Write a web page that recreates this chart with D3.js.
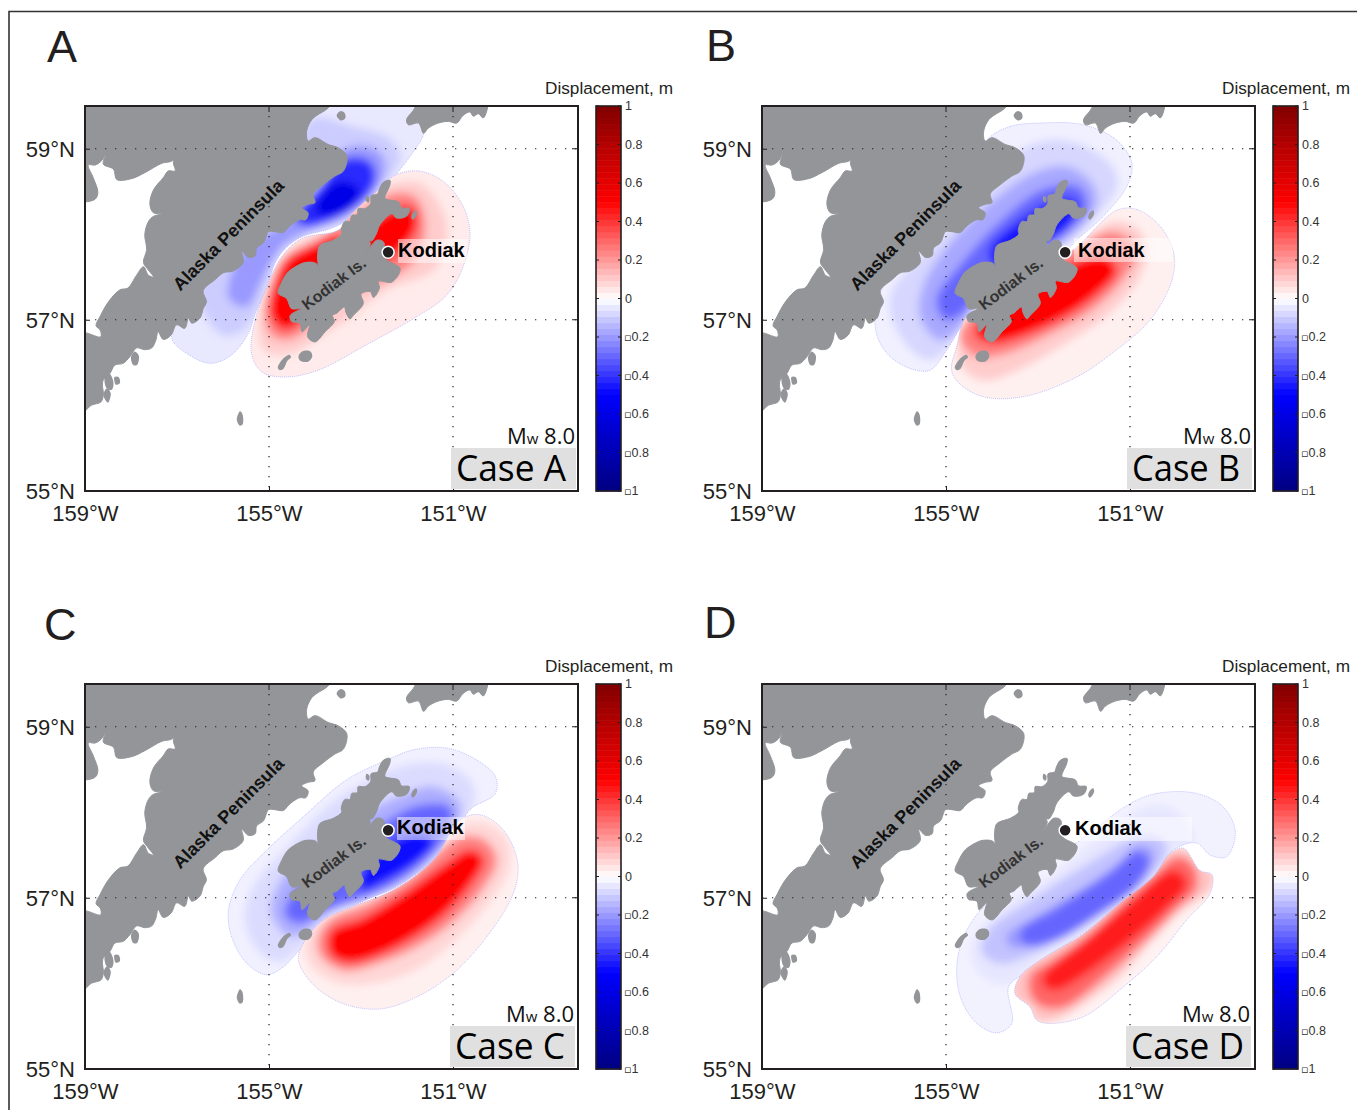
<!DOCTYPE html>
<html><head><meta charset="utf-8">
<script src="https://cdn.jsdelivr.net/npm/d3@7"></script>
<style>html,body{margin:0;padding:0;background:#fff}svg{display:block}</style></head>
<body><div id="chart"></div>
<script>
// ---- land outlines, [lon, lat] ----
const mainland=[[-159.1,59.6],[-153.60,59.6],[-153.71,59.48],[-153.96,59.39],[-154.07,59.34],[-154.18,59.21],[-154.15,59.09],[-154.00,59.13],[-153.71,59.05],[-153.49,59.01],[-153.31,58.92],[-153.38,58.74],[-153.57,58.68],[-153.82,58.58],[-154.04,58.47],[-154.00,58.37],[-154.15,58.35],[-154.29,58.31],[-154.15,58.25],[-154.20,58.17],[-154.33,58.17],[-154.47,58.13],[-154.58,58.08],[-154.69,58.02],[-154.87,58.03],[-155.01,58.03],[-155.12,57.90],[-155.27,57.84],[-155.30,57.75],[-155.45,57.73],[-155.59,57.80],[-155.56,57.67],[-155.78,57.57],[-155.99,57.55],[-156.17,57.47],[-156.43,57.34],[-156.36,57.21],[-156.43,57.13],[-156.50,57.02],[-156.68,56.96],[-156.75,57.02],[-156.83,56.90],[-157.01,56.94],[-157.13,56.82],[-157.30,56.77],[-157.41,56.86],[-157.46,56.76],[-157.55,56.67],[-157.70,56.65],[-157.88,56.67],[-158.02,56.57],[-158.17,56.49],[-158.35,56.47],[-158.46,56.37],[-158.60,56.30],[-158.62,56.22],[-158.60,56.14],[-158.65,56.04],[-158.86,56.00],[-159.1,55.90],[-159.1,56.84],[-158.66,56.80],[-158.67,56.88],[-158.76,56.93],[-158.67,57.04],[-158.49,57.21],[-158.24,57.35],[-158.07,57.37],[-157.88,57.52],[-157.73,57.62],[-157.62,57.52],[-157.51,57.50],[-157.62,57.58],[-157.73,57.67],[-157.66,57.82],[-157.70,58.00],[-157.62,58.15],[-157.51,58.21],[-157.33,58.24],[-157.51,58.25],[-157.59,58.35],[-157.51,58.52],[-157.30,58.66],[-157.19,58.74],[-157.04,58.74],[-157.08,58.84],[-157.01,58.95],[-157.10,58.86],[-157.33,58.83],[-157.70,58.72],[-157.99,58.65],[-158.31,58.64],[-158.38,58.76],[-158.60,58.82],[-158.53,58.95],[-158.42,59.07],[-158.64,58.86],[-158.78,58.81],[-158.93,58.81],[-158.82,58.66],[-158.72,58.49],[-158.78,58.41],[-159.1,58.40]];
const kenai=[[-151.68,59.6],[-151.86,59.45],[-152.01,59.34],[-151.97,59.28],[-151.75,59.30],[-151.64,59.18],[-151.54,59.24],[-151.32,59.30],[-151.10,59.32],[-150.92,59.30],[-150.78,59.39],[-150.63,59.43],[-150.56,59.38],[-150.45,59.41],[-150.34,59.36],[-150.27,59.6]];
const kodiak=[[-152.37,58.63],[-152.51,58.61],[-152.60,58.53],[-152.64,58.47],[-152.78,58.45],[-152.79,58.36],[-152.91,58.30],[-153.06,58.30],[-153.08,58.23],[-153.20,58.22],[-153.24,58.15],[-153.35,58.15],[-153.43,58.05],[-153.42,58.00],[-153.60,57.93],[-153.89,57.87],[-153.94,57.78],[-153.93,57.64],[-153.89,57.57],[-153.98,57.66],[-154.22,57.67],[-154.36,57.64],[-154.58,57.56],[-154.72,57.44],[-154.80,57.31],[-154.62,57.25],[-154.51,57.13],[-154.31,57.13],[-154.54,57.05],[-154.51,56.98],[-154.33,56.96],[-154.28,56.86],[-154.12,56.94],[-154.16,56.80],[-154.00,56.74],[-153.78,56.86],[-153.58,56.98],[-153.62,57.05],[-153.52,57.08],[-153.36,57.15],[-153.33,57.09],[-153.24,57.01],[-153.17,57.05],[-152.95,57.19],[-153.00,57.30],[-152.80,57.33],[-152.73,57.26],[-152.60,57.37],[-152.62,57.45],[-152.33,57.44],[-152.15,57.60],[-152.48,57.72],[-152.51,57.91],[-152.66,57.93],[-152.88,57.79],[-152.80,57.89],[-153.02,58.05],[-152.78,57.92],[-152.67,58.00],[-152.59,58.11],[-152.33,58.24],[-152.23,58.19],[-152.01,58.21],[-151.95,58.30],[-152.12,58.31],[-152.19,58.38],[-152.37,58.40],[-152.48,58.42],[-152.37,58.58]];
const islets=[
 [[-151.80,58.28],[-151.78,58.24],[-151.87,58.17],[-151.91,58.20],[-151.86,58.26]],
 [[-152.88,58.45],[-152.82,58.43],[-152.83,58.37],[-152.89,58.39]],
 [[-154.36,56.57],[-154.28,56.63],[-154.10,56.63],[-154.06,56.57],[-154.15,56.51],[-154.32,56.52]],
 [[-154.81,56.44],[-154.76,56.41],[-154.68,56.43],[-154.60,56.52],[-154.52,56.56],[-154.56,56.59],[-154.66,56.56],[-154.76,56.50]],
 [[-153.53,59.39],[-153.45,59.44],[-153.36,59.42],[-153.34,59.36],[-153.43,59.33]],
 [[-158.00,56.56],[-157.92,56.63],[-157.83,56.58],[-157.87,56.47],[-157.95,56.47]],
 [[-158.57,56.33],[-158.47,56.37],[-158.38,56.26],[-158.42,56.18],[-158.53,56.20]],
 [[-158.36,56.33],[-158.27,56.33],[-158.24,56.26],[-158.33,56.24]],
 [[-158.60,56.12],[-158.52,56.20],[-158.44,56.14],[-158.50,56.03]],
 [[-155.70,55.83],[-155.63,55.93],[-155.58,55.90],[-155.57,55.78],[-155.63,55.76]]
];
// ---- displacement contours, [level m, ring of [lon, lat]] ----
const caseABlue=[
 [-0.045,[[-154.14,59.45],[-153.64,59.53],[-151.75,59.53],[-151.64,59.18],[-151.83,58.99],[-152.19,58.73],[-152.62,58.48],[-153.20,58.20],[-153.64,58.07],[-154.29,57.97],[-154.65,57.83],[-154.87,57.66],[-155.01,57.43],[-155.30,57.07],[-155.45,56.84],[-155.81,56.59],[-156.25,56.49],[-156.68,56.57],[-157.12,56.80],[-156.46,57.35],[-155.38,57.93],[-154.29,58.40]]],
 [-0.1,[[-154.07,59.30],[-153.20,59.22],[-152.48,59.10],[-152.22,58.91],[-152.44,58.69],[-152.84,58.44],[-153.35,58.20],[-154.00,58.07],[-154.58,57.89],[-154.87,57.74],[-155.09,57.46],[-155.30,57.15],[-155.59,56.92],[-155.96,56.86],[-156.32,57.07],[-156.46,57.35],[-155.38,57.93],[-154.29,58.40]]],
 [-0.2,[[-153.35,58.95],[-152.91,58.99],[-152.62,58.91],[-152.55,58.75],[-152.84,58.48],[-153.42,58.24],[-154.07,58.11],[-154.72,57.91],[-155.01,57.70],[-155.30,57.39],[-155.52,57.19],[-155.81,57.27],[-155.74,57.54],[-155.38,57.85],[-154.65,58.09],[-153.93,58.44]]],
 [-0.42,[[-153.27,58.85],[-152.84,58.81],[-152.77,58.63],[-153.06,58.40],[-153.64,58.20],[-154.14,58.13],[-154.36,58.20],[-153.93,58.48]]],
 [-0.6,[[-153.45,58.58],[-153.12,58.52],[-153.22,58.36],[-153.66,58.26],[-153.92,58.28],[-153.76,58.46]]]
];
const caseARed=[
 [0.04,[[-152.26,58.69],[-151.75,58.74],[-151.24,58.63],[-150.81,58.36],[-150.63,58.01],[-150.81,57.58],[-151.17,57.27],[-151.90,57.00],[-152.84,56.72],[-153.93,56.41],[-154.65,56.33],[-155.16,56.39],[-155.38,56.61],[-155.30,57.00],[-155.01,57.43],[-154.72,57.74],[-154.29,57.95],[-153.49,58.05],[-153.20,58.24],[-152.62,58.52]]],
 [0.1,[[-152.33,58.54],[-151.75,58.56],[-151.32,58.28],[-151.21,58.01],[-151.46,57.62],[-152.48,57.39],[-153.35,57.04],[-153.93,56.84],[-154.51,56.65],[-155.01,56.66],[-155.16,56.92],[-154.94,57.39],[-154.65,57.70],[-154.07,57.93],[-153.42,58.05],[-152.84,58.40]]],
 [0.25,[[-152.26,58.44],[-151.86,58.40],[-151.68,58.13],[-151.86,57.74],[-152.48,57.50],[-153.20,57.35],[-153.93,57.07],[-154.51,56.82],[-154.87,56.84],[-155.01,57.07],[-154.83,57.46],[-154.58,57.70],[-153.93,57.89],[-152.84,58.28]]],
 [0.5,[[-152.33,58.24],[-151.93,58.28],[-151.86,58.09],[-152.11,57.89],[-152.55,57.70],[-152.84,57.81],[-152.84,58.01]]],
 [0.5,[[-153.49,57.93],[-154.00,57.85],[-154.58,57.66],[-154.83,57.35],[-154.90,57.07],[-154.65,56.92],[-154.32,57.04],[-153.93,57.54]]]
];
const caseBBlue=[
 [-0.03,[[-154.15,59.08],[-153.61,59.26],[-152.96,59.30],[-152.01,59.28],[-151.29,59.10],[-150.96,58.83],[-151.07,58.56],[-151.58,58.21],[-152.16,57.93],[-152.59,57.70],[-153.46,57.50],[-154.19,57.23],[-154.62,56.96],[-154.98,56.65],[-155.35,56.41],[-155.78,56.43],[-156.29,56.61],[-156.54,56.92],[-156.36,57.39],[-154.91,58.17]]],
 [-0.08,[[-153.32,58.95],[-152.59,59.06],[-151.87,58.95],[-151.43,58.75],[-151.36,58.56],[-151.72,58.28],[-152.30,57.97],[-153.03,57.74],[-153.90,57.43],[-154.62,57.04],[-154.91,56.76],[-155.35,56.57],[-155.71,56.68],[-156.11,57.04],[-156.11,57.31],[-155.06,57.93]]],
 [-0.17,[[-153.10,58.67],[-152.37,58.75],[-151.87,58.56],[-151.80,58.36],[-152.16,58.09],[-152.74,57.85],[-153.68,57.58],[-154.40,57.23],[-154.77,56.92],[-155.13,56.80],[-155.49,57.04],[-155.42,57.39],[-154.62,58.01]]],
 [-0.3,[[-152.88,58.48],[-152.16,58.52],[-152.01,58.32],[-152.45,58.05],[-153.32,57.78],[-154.19,57.43],[-154.69,57.11],[-154.98,57.04],[-155.13,57.23],[-154.62,57.62],[-153.82,58.09]]],
 [-0.45,[[-152.59,58.36],[-152.23,58.36],[-152.37,58.13],[-152.81,57.93],[-153.61,57.74],[-153.90,57.66],[-153.97,57.82],[-153.46,58.09]]]
];
const caseBRed=[
 [0.03,[[-151.29,58.28],[-150.85,58.29],[-150.34,58.09],[-150.05,57.78],[-150.09,57.46],[-150.56,57.00],[-151.29,56.65],[-152.16,56.33],[-153.32,56.10],[-154.19,56.10],[-154.70,56.25],[-154.88,56.41],[-154.77,56.68],[-154.55,57.04],[-153.68,57.27],[-152.74,57.62],[-152.16,57.85]]],
 [0.1,[[-151.29,58.11],[-150.85,58.01],[-150.71,57.78],[-150.92,57.46],[-151.58,57.07],[-152.45,56.76],[-153.46,56.45],[-154.19,56.33],[-154.62,56.49],[-154.62,56.80],[-154.19,57.15],[-152.74,57.66],[-152.01,57.89]]],
 [0.25,[[-151.36,57.99],[-150.92,57.82],[-151.21,57.50],[-151.87,57.15],[-152.74,56.88],[-153.68,56.65],[-154.33,56.61],[-154.62,56.80],[-154.33,57.04],[-152.74,57.58],[-152.01,57.85]]],
 [0.5,[[-151.58,57.70],[-151.36,57.58],[-151.72,57.35],[-152.45,57.07],[-153.39,56.84],[-153.97,56.76],[-154.30,56.84],[-154.19,56.96],[-152.74,57.50]]]
];
const caseCBlue=[
 [-0.03,[[-152.44,58.61],[-151.86,58.73],[-151.13,58.75],[-150.48,58.61],[-150.08,58.42],[-150.08,58.22],[-150.63,58.03],[-150.99,57.71],[-151.43,57.44],[-152.22,57.13],[-153.17,56.90],[-153.89,56.58],[-154.33,56.39],[-154.69,56.19],[-155.05,56.10],[-155.48,56.23],[-155.81,56.54],[-155.88,56.86],[-155.63,57.21],[-155.12,57.52],[-154.25,57.95],[-153.31,58.38]]],
 [-0.07,[[-152.15,58.49],[-151.13,58.51],[-150.63,58.30],[-150.63,58.10],[-151.06,57.75],[-151.64,57.44],[-152.44,57.13],[-153.38,56.93],[-153.96,56.66],[-154.47,56.39],[-154.83,56.29],[-155.27,56.47],[-155.45,56.82],[-155.20,57.17],[-154.62,57.52],[-153.53,58.10]]],
 [-0.16,[[-152.00,58.18],[-151.43,58.26],[-150.92,58.10],[-150.92,57.95],[-151.35,57.56],[-152.00,57.25],[-152.95,57.01],[-153.75,56.86],[-154.18,56.66],[-154.51,56.58],[-154.87,56.82],[-154.69,57.17],[-153.53,57.75]]],
 [-0.3,[[-151.79,58.03],[-151.13,58.03],[-151.13,57.83],[-151.57,57.52],[-152.44,57.17],[-153.31,56.99],[-153.89,56.86],[-154.33,56.74],[-154.58,56.82],[-154.25,57.13],[-152.80,57.71]]],
 [-0.47,[[-151.93,57.71],[-151.50,57.66],[-151.86,57.44],[-152.59,57.21],[-152.95,57.13],[-152.80,57.36]]]
];
const caseCRed=[
 [0.03,[[-150.84,57.91],[-150.41,57.97],[-149.90,57.79],[-149.59,57.40],[-149.69,57.05],[-150.27,56.54],[-150.99,56.12],[-151.79,55.84],[-152.58,55.70],[-153.38,55.76],[-154.03,55.98],[-154.36,56.27],[-154.25,56.47],[-153.82,56.74],[-153.17,56.90],[-152.30,57.09],[-151.43,57.44]]],
 [0.08,[[-150.77,57.81],[-150.27,57.83],[-149.87,57.63],[-149.87,57.32],[-150.27,56.97],[-150.99,56.54],[-151.86,56.19],[-152.73,56.04],[-153.46,56.04],[-154.03,56.23],[-154.14,56.47],[-153.75,56.72],[-152.95,56.90],[-152.00,57.17],[-151.28,57.52]]],
 [0.25,[[-150.77,57.68],[-150.34,57.64],[-150.12,57.44],[-150.41,57.13],[-150.99,56.78],[-151.79,56.47],[-152.66,56.27],[-153.38,56.19],[-153.82,56.35],[-153.85,56.54],[-153.60,56.72],[-152.80,56.90],[-151.86,57.21],[-151.13,57.56]]],
 [0.5,[[-150.63,57.52],[-150.41,57.44],[-150.63,57.21],[-151.21,56.85],[-151.93,56.56],[-152.66,56.36],[-153.24,56.28],[-153.60,56.36],[-153.60,56.58],[-152.95,56.72],[-152.00,57.03],[-151.13,57.36]]]
];
const caseDBlue=[
 [-0.025,[[-151.00,58.10],[-150.42,58.22],[-149.55,58.22],[-148.97,58.06],[-148.71,57.77],[-148.90,57.48],[-149.26,57.50],[-149.55,57.64],[-150.06,57.56],[-150.49,57.25],[-151.07,56.97],[-151.94,56.62],[-152.81,56.31],[-153.32,56.11],[-153.64,55.96],[-153.57,55.53],[-153.90,55.42],[-154.33,55.53],[-154.66,55.80],[-154.77,56.15],[-154.62,56.54],[-154.12,56.93],[-152.96,57.36],[-152.09,57.67]]],
 [-0.05,[[-150.78,57.99],[-150.20,58.03],[-149.77,57.83],[-149.69,57.67],[-150.13,57.58],[-150.49,57.25],[-151.14,56.97],[-152.09,56.62],[-152.96,56.31],[-153.61,56.04],[-154.04,56.06],[-154.37,56.27],[-154.33,56.50],[-153.83,56.82],[-152.59,57.25],[-151.72,57.64]]],
 [-0.12,[[-150.85,57.67],[-150.42,57.67],[-150.27,57.56],[-150.64,57.25],[-151.29,56.97],[-152.23,56.66],[-153.10,56.39],[-153.83,56.27],[-154.15,56.39],[-153.97,56.62],[-153.25,56.89],[-151.87,57.36]]],
 [-0.2,[[-150.85,57.56],[-150.56,57.52],[-150.78,57.25],[-151.51,56.97],[-152.38,56.70],[-153.10,56.50],[-153.54,56.46],[-153.61,56.54],[-153.03,56.74],[-151.72,57.17],[-151.07,57.44]]],
 [-0.3,[[-150.85,57.50],[-150.66,57.42],[-150.90,57.17],[-151.65,56.86],[-152.62,56.54],[-153.25,56.48],[-153.30,56.60],[-152.62,56.82],[-151.36,57.27]]]
];
const caseDRed=[
 [0.025,[[-150.13,57.52],[-149.84,57.58],[-149.48,57.32],[-149.22,57.27],[-149.26,57.05],[-149.77,56.74],[-150.42,56.31],[-151.14,55.96],[-152.01,55.61],[-152.74,55.53],[-153.03,55.57],[-153.17,55.72],[-153.50,55.88],[-153.39,56.08],[-152.96,56.27],[-152.01,56.58],[-151.14,56.97],[-150.49,57.25]]],
 [0.12,[[-150.06,57.52],[-149.77,57.52],[-149.55,57.36],[-149.26,57.27],[-149.33,57.11],[-149.91,56.89],[-150.49,56.58],[-151.29,56.11],[-151.94,55.84],[-152.67,55.61],[-153.03,55.61],[-153.07,55.72],[-153.50,55.88],[-153.39,56.08],[-152.96,56.27],[-152.01,56.58],[-151.14,56.97],[-150.49,57.28]]],
 [0.3,[[-149.98,57.44],[-149.69,57.36],[-149.62,57.13],[-150.06,56.89],[-150.78,56.50],[-151.58,56.11],[-152.45,55.76],[-152.88,55.76],[-153.10,55.88],[-153.10,56.08],[-152.67,56.23],[-151.87,56.54],[-151.00,56.97],[-150.35,57.28]]],
 [0.45,[[-150.06,57.28],[-149.84,57.17],[-150.20,56.93],[-150.92,56.58],[-151.87,56.19],[-152.59,55.96],[-152.81,55.99],[-152.81,56.08],[-152.01,56.43],[-150.92,56.93]]]
];
// ---- axis and colourbar values ----
const lonTicks=[-159,-155,-151];
const latTicks=[59,57,55];
const barTicks=[1,0.8,0.6,0.4,0.2,0,-0.2,-0.4,-0.6,-0.8,-1];
const kodiakTown=[-152.41,57.79];
const peninsulaLabel=[-155.79,57.94];
const kodiakIsLabel=[-153.52,57.37];

const W=1357,H=1110,PW=493,PH=385;
const panels=[
 {id:'A',ox:85,oy:106,lx:47,ly:62,blue:caseABlue,red:caseARed,rect:[451,448],tx:398,ty:257,bg:[398,239,69,24],mwx:575,tl:110},
 {id:'B',ox:762,oy:106,lx:706,ly:61,blue:caseBBlue,red:caseBRed,rect:[1127,448],tx:1078,ty:257,bg:[1074,238,99,24],mwx:1251,tl:108},
 {id:'C',ox:85,oy:684,lx:44,ly:640,blue:caseCBlue,red:caseCRed,rect:[450,1026],tx:397,ty:834,bg:[397,817,68,23],mwx:574,tl:110},
 {id:'D',ox:762,oy:684,lx:704,ly:638,blue:caseDBlue,red:caseDRed,rect:[1126,1026],tx:1075,ty:835,bg:[1075,817,117,24],mwx:1250,tl:113}
];
const sans='"Liberation Sans",Arial,sans-serif', myriad='"Open Sans",sans-serif', ink='#231f20';
const svg=d3.select('#chart').append('svg').attr('width',W).attr('height',H).attr('viewBox',[0,0,W,H]);
const defs=svg.append('defs');
defs.append('filter').attr('id','soft').attr('x','-30%').attr('y','-30%').attr('width','160%').attr('height','160%')
  .append('feGaussianBlur').attr('stdDeviation',4);
svg.append('path').attr('d',`M9,1110V11.5H1357`).attr('fill','none').attr('stroke','#333').attr('stroke-width',1.6);

const x=d3.scaleLinear().domain([-159,-159+PW/46]).range([0,PW]);
const y=d3.scaleLinear().domain([59.5,59.5-PH/85.5]).range([0,PH]);
const smooth=d3.line(d=>x(d[0]),d=>y(d[1])).curve(d3.curveCatmullRomClosed.alpha(0.5));
const colour=d3.scaleLinear().domain([-1,-0.5,0,0.5,1]).range(['#000080','#0000ff','#ffffff','#ff0000','#800000']);
const barY=d3.scaleLinear().domain([1,-1]).range([0,PH]);
const barLevels=d3.range(-1,1,1/32);

panels.forEach(p=>{
  const g=svg.append('g').attr('transform',`translate(${p.ox},${p.oy})`);
  defs.append('clipPath').attr('id','frame'+p.id).append('rect').attr('width',PW).attr('height',PH);
  const map=g.append('g').attr('clip-path',`url(#frame${p.id})`);
  [['b',p.blue],['r',p.red]].forEach(([k,lobe])=>{
    const cid=`lobe${p.id}${k}`;
    defs.append('clipPath').attr('id',cid).append('path').attr('d',smooth(lobe[0][1]));
    map.append('path').attr('d',smooth(lobe[0][1])).attr('fill',colour(lobe[0][0]));
    const inner=map.append('g').attr('clip-path',`url(#${cid})`).append('g').attr('filter','url(#soft)');
    inner.selectAll('path').data(lobe.slice(1)).join('path')
      .attr('d',d=>smooth(d[1])).attr('fill',d=>colour(d[0])).attr('stroke',d=>colour(d[0])).attr('stroke-width',7).attr('stroke-linejoin','round');
    map.append('path').attr('d',smooth(lobe[0][1])).attr('fill','none')
      .attr('stroke','#a9a9ff').attr('stroke-width',0.7).attr('stroke-dasharray','1 1');
  });
  // land
  const land=map.append('g').attr('fill','#939598').attr('stroke','#939598').attr('stroke-width',1).attr('stroke-linejoin','round');
  [mainland,kenai,kodiak].forEach(r=>land.append('path').attr('d',smooth(r)));
  land.selectAll('path.i').data(islets).join('path').attr('class','i').attr('d',smooth).attr('stroke','none');
  // graticule
  map.selectAll('line.gx').data(lonTicks.slice(1)).join('line').attr('class','gx').attr('x1',d=>x(d)).attr('x2',d=>x(d)).attr('y1',0).attr('y2',PH)
    .attr('stroke','#222').attr('stroke-width',1.2).attr('stroke-dasharray','1.3 8.7');
  map.selectAll('line.gy').data(latTicks.slice(0,2)).join('line').attr('class','gy').attr('y1',d=>y(d)).attr('y2',d=>y(d)).attr('x1',0).attr('x2',PW)
    .attr('stroke','#222').attr('stroke-width',1.2).attr('stroke-dasharray','1.3 8.7');
  // map labels
  g.append('text').attr('transform',`translate(${x(peninsulaLabel[0])},${y(peninsulaLabel[1])}) rotate(-45)`)
    .attr('text-anchor','middle').attr('font-family',sans).attr('font-weight','bold').attr('font-size',18).attr('fill','#111').text('Alaska Peninsula');
  g.append('text').attr('transform',`translate(${x(kodiakIsLabel[0])},${y(kodiakIsLabel[1])}) rotate(-37)`)
    .attr('text-anchor','middle').attr('font-family',sans).attr('font-weight','bold').attr('font-size',16).attr('fill','#333').text('Kodiak Is.');
  svg.append('rect').attr('x',p.bg[0]).attr('y',p.bg[1]).attr('width',p.bg[2]).attr('height',p.bg[3]).attr('fill','#fff').attr('opacity',0.5);
  g.append('circle').attr('cx',x(kodiakTown[0])).attr('cy',y(kodiakTown[1])).attr('r',6).attr('fill','#231f20').attr('stroke','#fff').attr('stroke-width',1.5);
  svg.append('text').attr('x',p.tx).attr('y',p.ty).attr('font-family',sans).attr('font-weight','bold').attr('font-size',20).attr('fill','#000').text('Kodiak');
  // axes
  const ax=g.append('g').attr('transform',`translate(0,${PH})`)
    .call(d3.axisBottom(x).tickValues(lonTicks).tickFormat(d=>`${-d}°W`).tickSize(-5).tickPadding(14));
  const ay=g.append('g').call(d3.axisLeft(y).tickValues(latTicks).tickFormat(d=>`${d}°N`).tickSize(-5).tickPadding(10));
  [ax,ay].forEach(a=>{a.select('.domain').remove();a.selectAll('text').attr('font-family',sans).attr('font-size',22).attr('fill',ink);
    a.selectAll('line').attr('stroke',ink);});
  ax.selectAll('text').attr('y',14).attr('dy','0.71em');
  ay.selectAll('text').attr('dy','0.36em');
  g.append('g').selectAll('line').data(latTicks.slice(0,2)).join('line').attr('x1',PW-6).attr('x2',PW).attr('y1',d=>y(d)).attr('y2',d=>y(d)).attr('stroke',ink);
  g.append('g').selectAll('line').data(lonTicks.slice(1)).join('line').attr('x1',d=>x(d)).attr('x2',d=>x(d)).attr('y1',0).attr('y2',6).attr('stroke',ink);
  g.append('rect').attr('width',PW).attr('height',PH).attr('fill','none').attr('stroke',ink).attr('stroke-width',2);
  // case box
  svg.append('rect').attr('x',p.rect[0]).attr('y',p.rect[1]).attr('width',125).attr('height',41).attr('fill','#e0e0e0');
  svg.append('text').attr('x',p.rect[0]+5).attr('y',p.rect[1]+33).attr('font-family',myriad).attr('font-size',37).attr('fill','#000')
    .attr('textLength',p.tl).attr('lengthAdjust','spacingAndGlyphs').text('Case '+p.id);
  const mw=svg.append('text').attr('x',p.mwx).attr('y',p.rect[1]-4).attr('text-anchor','end').attr('font-family',myriad).attr('font-size',22).attr('fill','#111');
  mw.append('tspan').text('M'); mw.append('tspan').attr('font-size',15).text('w'); mw.append('tspan').text(' 8.0');
  // panel letter
  svg.append('text').attr('x',p.lx).attr('y',p.ly).attr('font-family',sans).attr('font-size',45).attr('fill',ink).text(p.id);
  // colourbar
  const b=g.append('g').attr('transform',`translate(${PW+18},0)`);
  b.selectAll('rect').data(barLevels).join('rect')
    .attr('x',0).attr('width',25).attr('y',d=>barY(d+1/32)).attr('height',d=>barY(d)-barY(d+1/32)+0.5)
    .attr('fill',d=>colour(d+1/64));
  b.selectAll('line.t').data(barTicks).join('line').attr('class','t').attr('y1',d=>barY(d)).attr('y2',d=>barY(d)).attr('x1',0).attr('x2',25)
    .attr('stroke',ink).attr('stroke-width',1).attr('stroke-dasharray','3 19 3');
  b.append('rect').attr('width',25).attr('height',PH).attr('fill','none').attr('stroke',ink).attr('stroke-width',1.6);
  const lbl=b.selectAll('text.v').data(barTicks).join('text').attr('class','v').attr('x',29).attr('y',d=>barY(d)+4)
    .attr('font-family',sans).attr('font-size',12.5).attr('fill','#333');
  lbl.filter(d=>d<0).append('tspan').attr('font-family','"DejaVu Sans"').attr('font-size',11).attr('dx',-1).text('▫');
  lbl.append('tspan').text(d=>`${Math.abs(d)}`);
  b.append('text').attr('x',25+52).attr('y',-12).attr('text-anchor','end').attr('font-family',sans).attr('font-size',17.2).attr('fill',ink).text('Displacement, m');
});
</script></body></html>
